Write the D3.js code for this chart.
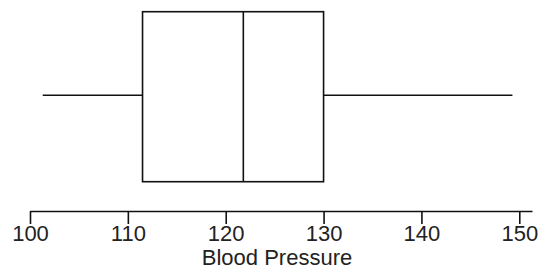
<!DOCTYPE html>
<html>
<head>
<meta charset="utf-8">
<script src="https://cdn.jsdelivr.net/npm/d3@7"></script>
<style>
  html, body { margin: 0; padding: 0; background: #fff; }
  svg { display: block; }
  text { font-family: "Liberation Sans", Arial, sans-serif; fill: #222; }
</style>
</head>
<body>
<svg id="chart" width="540" height="271"></svg>
<script>
// Data
const stats = [{ label: "Blood Pressure", min: 101.3, q1: 111.5, median: 121.8, q3: 130.0, max: 149.3 }];
const tickValues = [100, 110, 120, 130, 140, 150];
const axisDomain = [100, 151.3];
const axisTitle = "Blood Pressure";

const svg = d3.select("#chart");
const x = d3.scaleLinear().domain(axisDomain).range([30, 532]);
const y = d3.scaleBand().domain(stats.map(d => d.label)).range([11.7, 181.7]).padding(0);

const ink = "#111";
const sw = 1.6;

const g = svg.append("g");
stats.forEach(d => {
  const top = y(d.label), bh = y.bandwidth(), mid = top + bh / 2 - 1.5;
  // whiskers
  g.append("line").attr("x1", x(d.min)).attr("x2", x(d.q1)).attr("y1", mid).attr("y2", mid)
    .attr("stroke", ink).attr("stroke-width", sw);
  g.append("line").attr("x1", x(d.q3)).attr("x2", x(d.max)).attr("y1", mid).attr("y2", mid)
    .attr("stroke", ink).attr("stroke-width", sw);
  // box
  g.append("rect").attr("x", x(d.q1)).attr("y", top).attr("width", x(d.q3) - x(d.q1)).attr("height", bh)
    .attr("fill", "none").attr("stroke", ink).attr("stroke-width", sw);
  // median
  g.append("line").attr("x1", x(d.median)).attr("x2", x(d.median)).attr("y1", top).attr("y2", top + bh)
    .attr("stroke", ink).attr("stroke-width", sw);
});

// axis
const axis = d3.axisBottom(x).tickValues(tickValues).tickSize(13).tickSizeOuter(0).tickPadding(1).tickFormat(d3.format("d"));
const ag = svg.append("g").attr("transform", "translate(0,211)").call(axis);
ag.select(".domain").attr("stroke", ink).attr("stroke-width", sw);
ag.selectAll(".tick line").attr("stroke", ink).attr("stroke-width", sw);
ag.selectAll(".tick text").attr("font-size", 22).attr("fill", "#222")
  .attr("font-family", "Liberation Sans, Arial, sans-serif");

svg.append("text").attr("x", 277).attr("y", 265).attr("text-anchor", "middle")
  .attr("font-size", 22).text(axisTitle);
</script>
</body>
</html>
